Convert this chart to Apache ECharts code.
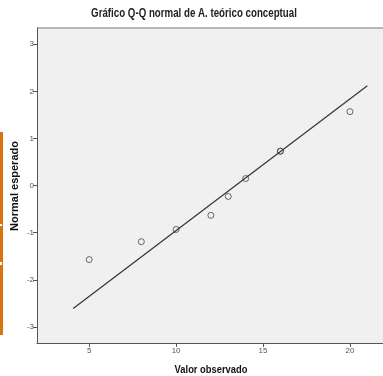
<!DOCTYPE html>
<html>
<head>
<meta charset="utf-8">
<script src="https://cdn.jsdelivr.net/npm/echarts@6/dist/echarts.min.js"></script>
<style>html,body{margin:0;padding:0;background:#fff;}#c{width:383px;height:376px;}</style>
</head>
<body>
<div id="c"></div>
<script>
var observed = [5, 8, 10, 12, 13, 14, 16, 16, 20];
var expected = [-1.57, -1.19, -0.93, -0.63, -0.23, 0.15, 0.73, 0.73, 1.57];
var lineX = [4.08, 21.0];
var lineY = [-2.61, 2.12];
var xTicks = [5, 10, 15, 20];
var yTicks = [-3, -2, -1, 0, 1, 2, 3];
var titleText = 'Gráfico Q-Q normal de A. teórico conceptual';
var xName = 'Valor observado';
var yName = 'Normal esperado';

var FONT = '"Liberation Sans", Arial, sans-serif';
var chart = echarts.init(document.getElementById('c'));
chart.setOption({
  animation: false,
  backgroundColor: '#ffffff',
  grid: {left: 37, right: 0, top: 28, bottom: 33, show: true, backgroundColor: '#f0f0f0', borderWidth: 0},
  xAxis: {
    type: 'value', min: 2, max: 21.9,
    axisLine: {show: true, onZero: false, lineStyle: {color: '#555', width: 1}},
    axisTick: {show: true, length: 4, lineStyle: {color: '#555'}, customValues: xTicks},
    axisLabel: {fontFamily: FONT, fontSize: 8, color: '#555', margin: 4, customValues: xTicks},
    splitLine: {show: false}
  },
  yAxis: {
    type: 'value', min: -3.34, max: 3.345,
    axisLine: {show: true, onZero: false, lineStyle: {color: '#555', width: 1}},
    axisTick: {show: true, length: 4, lineStyle: {color: '#555'}, customValues: yTicks},
    axisLabel: {fontFamily: FONT, fontSize: 8, color: '#555', margin: 3, customValues: yTicks},
    splitLine: {show: false}
  },
  graphic: [
    {type: 'line', shape: {x1: 37, y1: 28, x2: 383, y2: 28}, style: {stroke: '#777', lineWidth: 1}},
    {type: 'rect', shape: {x: 0, y: 132, width: 3, height: 203}, style: {fill: '#d9730d'}},
    {type: 'rect', shape: {x: 0, y: 224, width: 2, height: 2}, style: {fill: '#ffffff'}},
    {type: 'rect', shape: {x: 0, y: 262, width: 2, height: 3}, style: {fill: '#ffffff'}},
    {type: 'text', x: 194, y: 14, scaleX: 0.81,
      style: {text: titleText, fontFamily: FONT, fontSize: 12, fontWeight: 'bold', fill: '#222',
        textAlign: 'center', textVerticalAlign: 'middle'}},
    {type: 'text', x: 211, y: 370, scaleX: 0.85,
      style: {text: xName, fontFamily: FONT, fontSize: 11, fontWeight: 'bold', fill: '#111',
        textAlign: 'center', textVerticalAlign: 'middle'}},
    {type: 'text', x: 15, y: 186, rotation: Math.PI / 2,
      style: {text: yName, fontFamily: FONT, fontSize: 11, fontWeight: 'bold', fill: '#111',
        textAlign: 'center', textVerticalAlign: 'middle'}}
  ],
  series: [
    {
      type: 'line', data: lineX.map(function (x, i) { return [x, lineY[i]]; }),
      symbol: 'none', lineStyle: {color: '#333', width: 1.2}, silent: true
    },
    {
      type: 'scatter', data: observed.map(function (x, i) { return [x, expected[i]]; }),
      symbol: 'circle', symbolSize: 6,
      itemStyle: {color: 'transparent', borderColor: '#444', borderWidth: 1}
    }
  ]
});
</script>
</body>
</html>
